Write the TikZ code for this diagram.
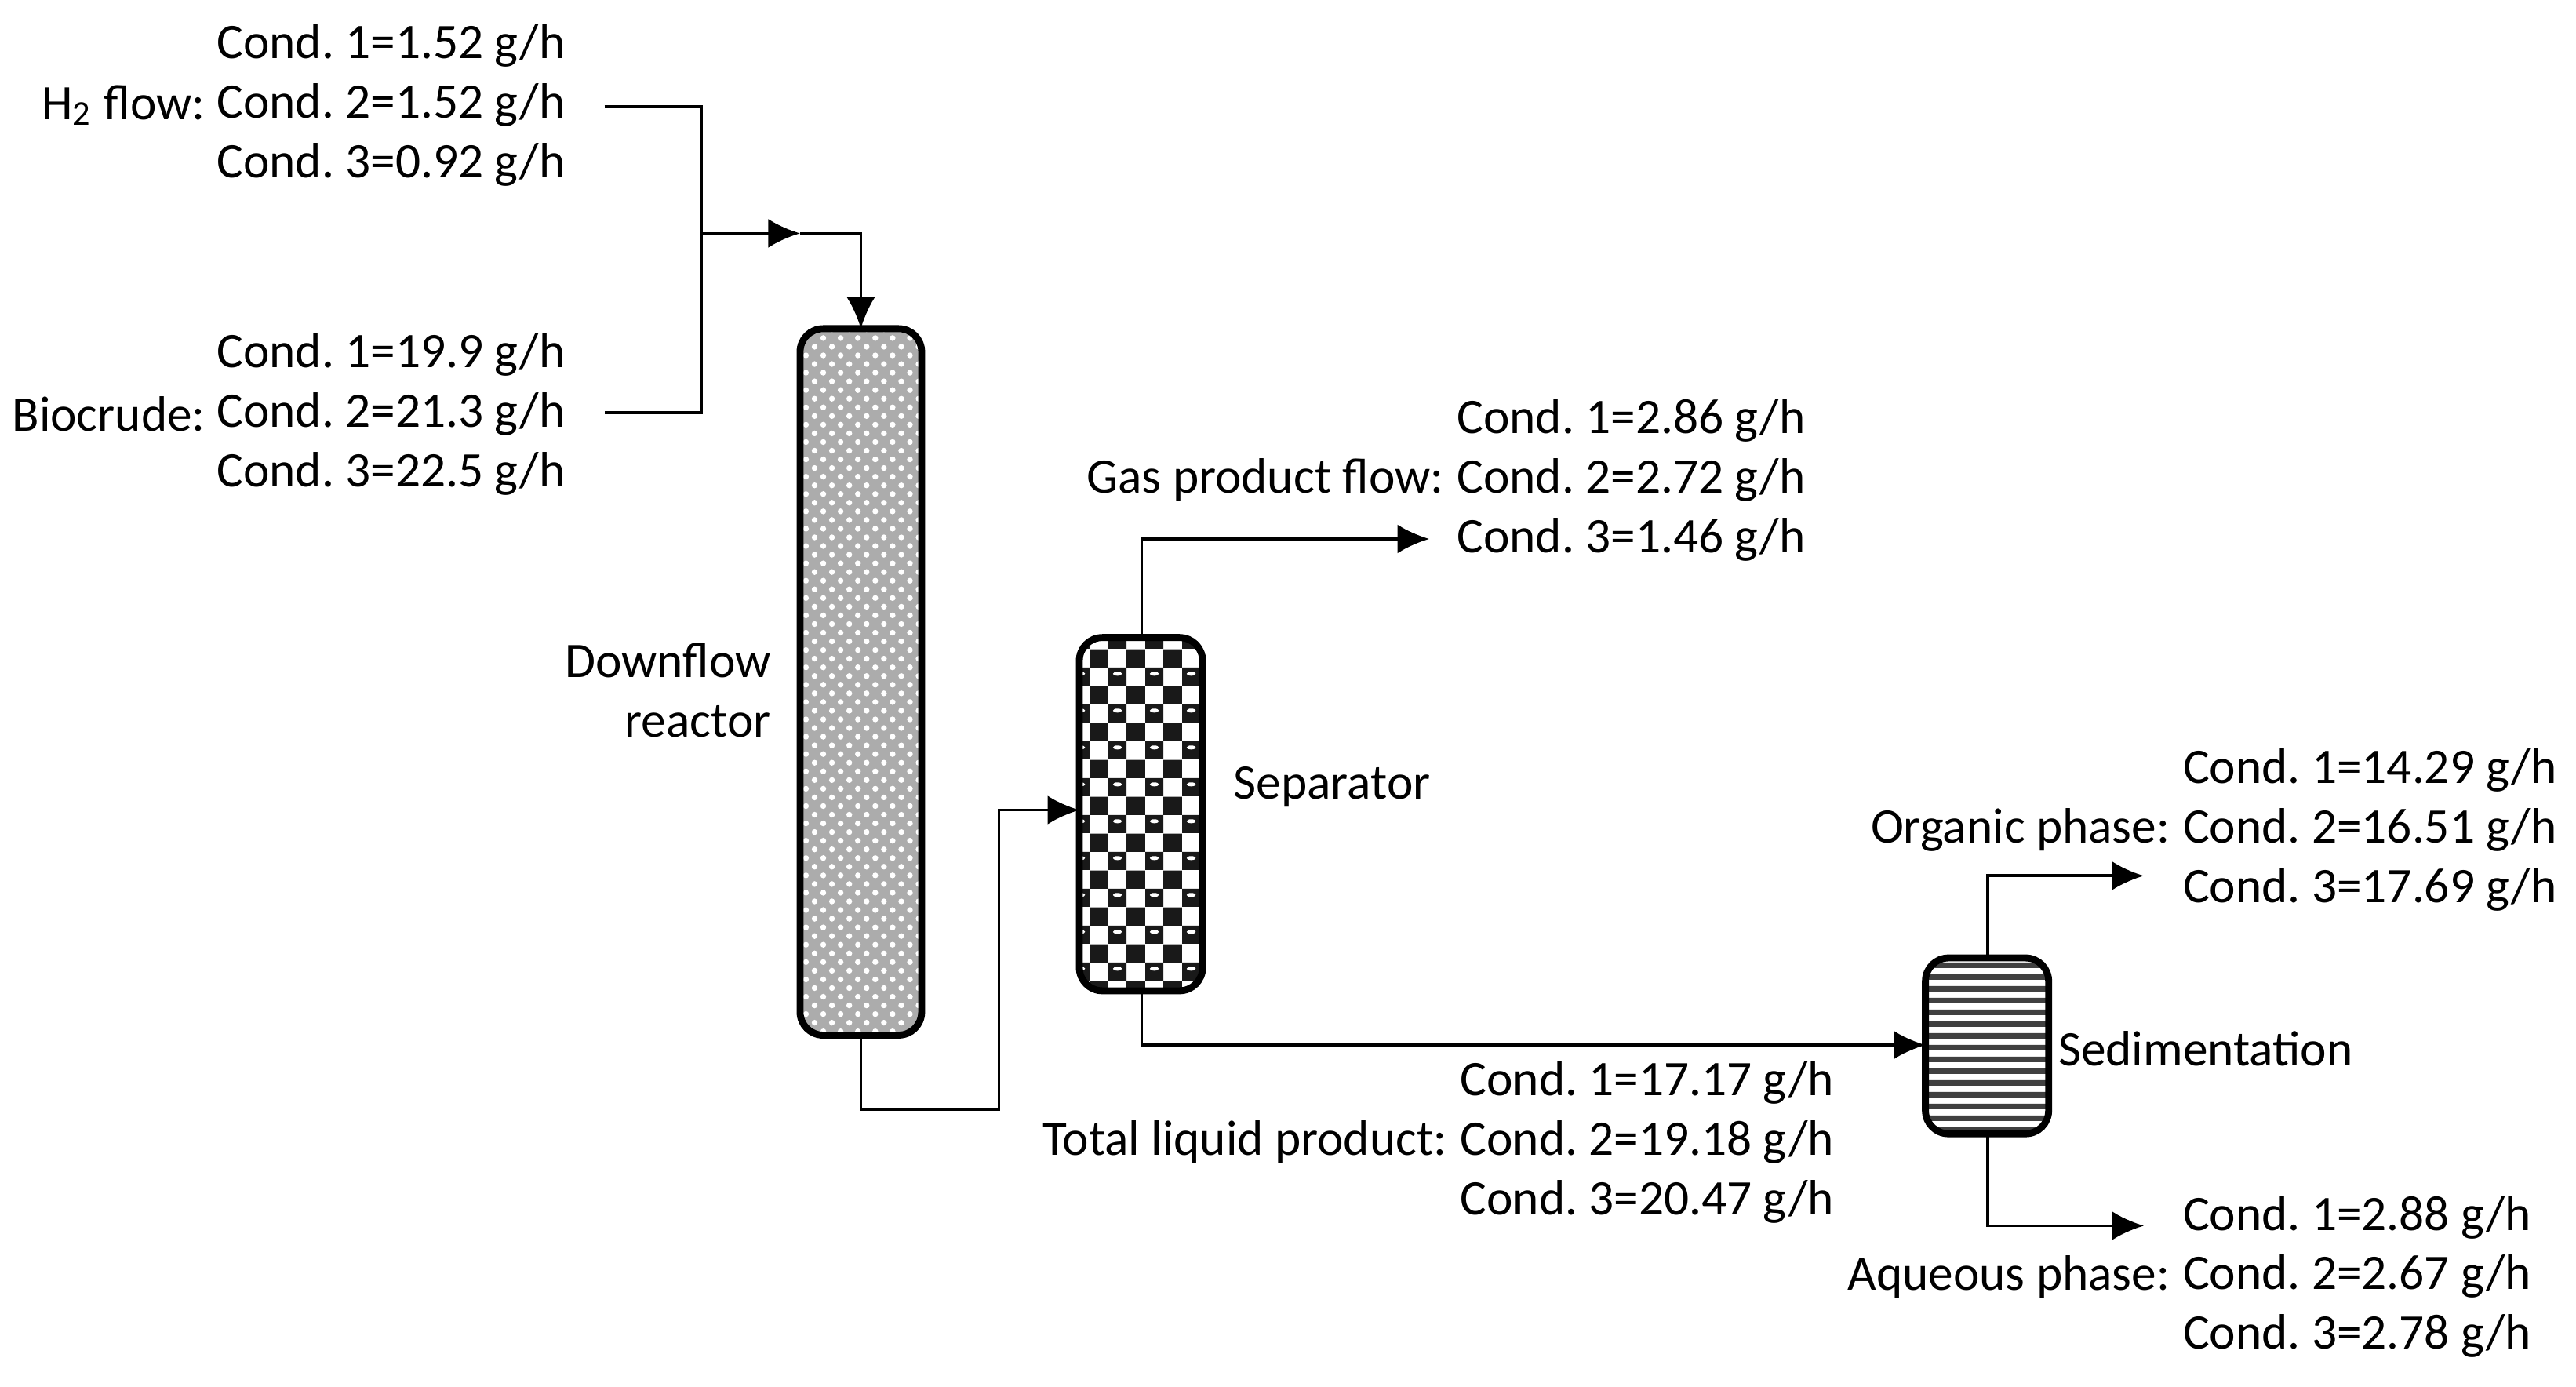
\documentclass[tikz,border=0pt]{standalone}
\usepackage{fontspec}
\setmainfont{Carlito}
\usetikzlibrary{arrows.meta,patterns,patterns.meta,positioning}

\tikzdeclarepattern{name=smallcheck, type=colored, bottom left={(0pt,0pt)}, top right={(6.4pt,6.4pt)}, tile size={(6.4pt,6.4pt)},
  code={\fill[black!90] (0pt,0pt) rectangle (3.2pt,3.2pt) (3.2pt,3.2pt) rectangle (6.4pt,6.4pt);
        \fill[white] (1.6pt,2.1pt) ellipse (0.8pt and 0.35pt);}}
\tikzdeclarepattern{name=thicklines, type=colored, bottom left={(0pt,0pt)}, top right={(2pt,2pt)}, tile size={(2pt,2pt)},
  code={\fill[black!75] (0pt,0pt) rectangle (2pt,1pt);}}

\begin{document}
\frenchspacing
\begin{tikzpicture}[->,
            >={Latex[length=5.5pt,width=5pt]},
            x=0.01cm, y=-0.01cm,
            line width=0.5pt,
            vessel/.style={draw, line width=1.2pt, rounded corners=4pt, -},
            cond/.style={align=left, anchor=west, inner sep=0pt,
                         font=\fontsize{8.6}{10.3}\selectfont},
            lbl/.style={anchor=east, inner sep=0pt, font=\fontsize{8.6}{10.3}\selectfont}]

        \useasboundingbox (0,0) rectangle (1568,844);

        % vessels
        \fill[gray!65, rounded corners=4pt] (487,200) rectangle (561,630);
        \draw[vessel, pattern=crosshatch dots, pattern color=white] (487,200) rectangle (561,630);
        \draw[vessel, pattern=smallcheck] (657,388) rectangle (732,603);
        \draw[vessel, pattern=thicklines] (1172,583) rectangle (1247,690);
        \coordinate (reactor top) at (524,200);
        \coordinate (reactor bot) at (524,630);
        \coordinate (sep in)  at (657,493);
        \coordinate (sep top) at (695,388);
        \coordinate (sep bot) at (695,603);
        \coordinate (sed in)  at (1172,636);
        \coordinate (sed top) at (1210,583);
        \coordinate (sed bot) at (1210,690);

        % feed texts
        \node[cond, align=right, anchor=east] (h2)  at (345,64)  {Cond. 1=1.52 g/h\\Cond. 2=1.52 g/h\\Cond. 3=0.92 g/h};
        \node[lbl] at ([xshift=-1.5pt]h2.west)  {H\textsubscript{2} flow:};
        \node[cond, align=right, anchor=east] (bio) at (345,252) {Cond. 1=19.9 g/h\\Cond. 2=21.3 g/h\\Cond. 3=22.5 g/h};
        \node[lbl] at ([xshift=-1.5pt]bio.west) {Biocrude:};
        \node[lbl, align=right] at (470,420) {Downflow\\reactor};
        \node[cond] at (750,479) {Separator};
        \node[cond] at (1252,638) {Sedimentation};

        % product texts
        \node[cond] (gas) at (886,292) {Cond. 1=2.86 g/h\\Cond. 2=2.72 g/h\\Cond. 3=1.46 g/h};
        \node[lbl] at ([xshift=-1.8pt]gas.west) {Gas product flow:};
        \node[cond] (tlp) at (888,695) {Cond. 1=17.17 g/h\\Cond. 2=19.18 g/h\\Cond. 3=20.47 g/h};
        \node[lbl] at ([xshift=-1.8pt]tlp.west) {Total liquid product:};
        \node[cond] (org) at (1328,505) {Cond. 1=14.29 g/h\\Cond. 2=16.51 g/h\\Cond. 3=17.69 g/h};
        \node[lbl] at ([xshift=-1.8pt]org.west) {Organic phase:};
        \node[cond] (aq)  at (1328,777) {Cond. 1=2.88 g/h\\Cond. 2=2.67 g/h\\Cond. 3=2.78 g/h};
        \node[lbl] at ([xshift=-1.8pt]aq.west) {Aqueous phase:};

        \coordinate (mix) at (427,142);
        \coordinate (mid) at (487,142);

        % streams
        \draw[-] (368,65) -| (mix) |- (368,251);
        \draw (mix) -- (mid);
        \draw (mid) -| (reactor top);
        \draw (reactor bot) |- (608,675) |- (sep in);
        \draw (sep top) |- (870,328);
        \draw (sep bot) |- (sed in);
        \draw (sed top) |- (1305,533);
        \draw (sed bot) |- (1305,746);

    \end{tikzpicture}
\end{document}
